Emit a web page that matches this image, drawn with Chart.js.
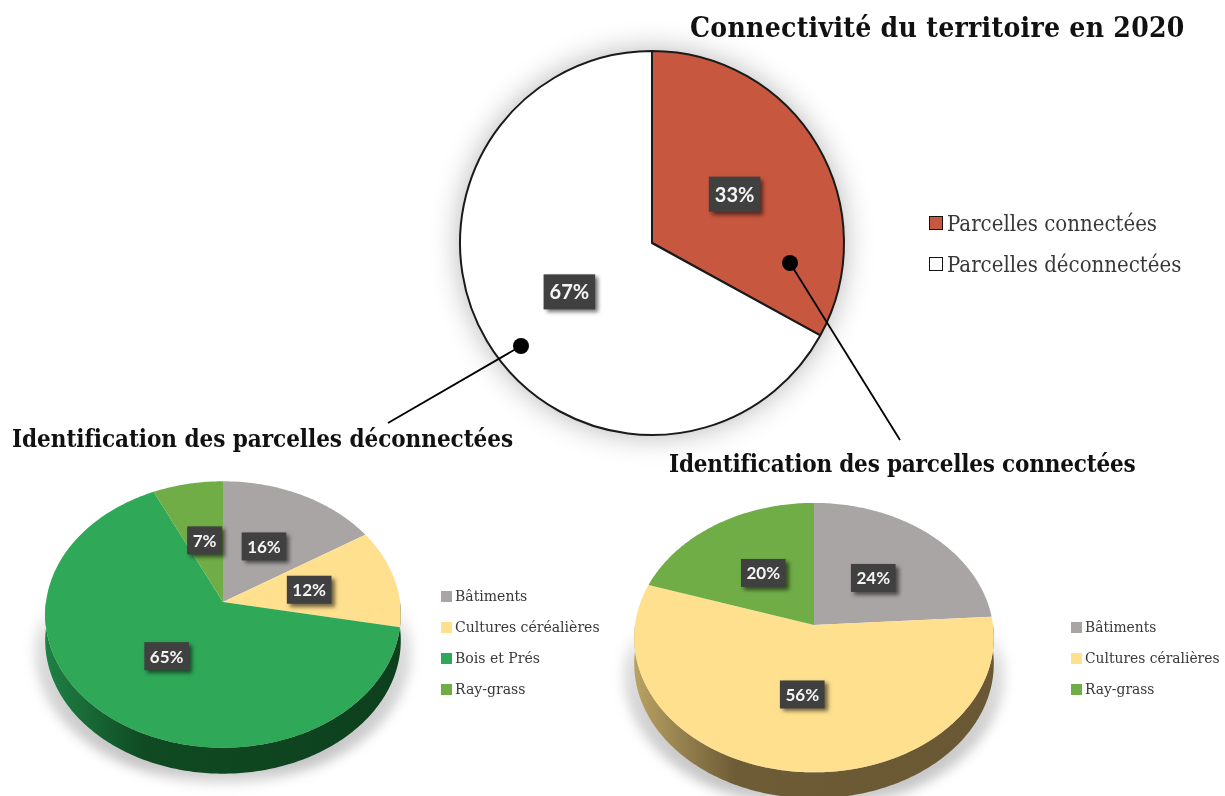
<!DOCTYPE html>
<html lang="fr">
<head>
<meta charset="utf-8">
<title>Connectivité du territoire en 2020</title>
<script src="https://cdn.jsdelivr.net/npm/chart.js@4/dist/chart.umd.min.js"></script>
<style>
  html, body { margin: 0; width: 1225px; height: 796px; overflow: hidden; background: #fff; }
  canvas, svg, .title, .legend { position: absolute; }
  svg { left: 0; top: 0; }
  .title { font-family: "DejaVu Serif Condensed", "DejaVu Serif", serif; font-weight: bold; color: #111; white-space: nowrap; line-height: 1; }
  .legend { font-family: "DejaVu Serif Condensed", "DejaVu Serif", serif; color: #383838; white-space: nowrap; }
  .legend div { position: absolute; left: 0; display: flex; align-items: center; }
  .legend i { display: block; box-sizing: border-box; }
</style>
</head>
<body>
<canvas id="topPie" width="454" height="454" style="left:425px;top:16px"></canvas>
<canvas id="leftPie" width="404" height="404" style="left:21px;top:400px"></canvas>
<canvas id="rightPie" width="408" height="408" style="left:610px;top:421px"></canvas>

<svg width="1225" height="796">
  <line x1="521" y1="346" x2="388" y2="423" stroke="#000" stroke-width="1.8"/>
  <circle cx="521" cy="346" r="8"/>
  <line x1="790" y1="263" x2="900" y2="440" stroke="#000" stroke-width="1.8"/>
  <circle cx="790" cy="263" r="8"/>
</svg>

<div class="title" style="left:690px;top:14px;font-size:28px;letter-spacing:0.3px">Connectivité du territoire en 2020</div>
<div class="title" style="left:12px;top:427px;font-size:24px;letter-spacing:-0.05px">Identification des parcelles déconnectées</div>
<div class="title" style="left:669px;top:452px;font-size:24px;letter-spacing:-0.2px">Identification des parcelles connectées</div>

<div class="legend" id="topLegend" style="left:929px;top:210px;font-size:22px"></div>
<div class="legend" id="leftLegend" style="left:441px;top:583px;font-size:15.6px"></div>
<div class="legend" id="rightLegend" style="left:1071px;top:614px;font-size:15.4px"></div>

<script>
// -------------------- DATA --------------------
const topCategories = ["Parcelles connectées", "Parcelles déconnectées"];
const topValues = [33, 67];
const topColors = ["#C8573F", "#FFFFFF"];

const leftCategories = ["Bâtiments", "Cultures céréalières", "Bois et Prés", "Ray-grass"];
const leftValues = [16, 12, 65, 7];
const leftColors = ["#A9A5A5", "#FFE08F", "#2FA858", "#70AD47"];

const rightCategories = ["Bâtiments", "Cultures céralières", "Ray-grass"];
const rightValues = [24, 56, 20];
const rightColors = ["#A9A5A5", "#FFE08F", "#70AD47"];

// -------------------- 3D LOOK --------------------
const SQUASH = 0.746;   // flattening of the disc
const PERSPECTIVE = 0.0937;   // front of the disc is closer than the back
const DEPTH = 26;

function project(el, angle, frac) {
  const u = Math.cos(angle) * frac;
  const v = Math.sin(angle) * frac;
  const w = 1 - PERSPECTIVE * v;
  return {
    x: el.x + el.outerRadius * u / w,
    y: el.y + el.outerRadius * SQUASH * v / w
  };
}

function tracePath(ctx, el, from, to, dy, dx) {
  const steps = Math.max(2, Math.ceil(Math.abs(to - from) / 0.015));
  for (let i = 0; i <= steps; i++) {
    const p = project(el, from + (to - from) * i / steps, 1);
    ctx.lineTo(p.x * (dx || 1) + el.x * (1 - (dx || 1)), p.y + dy);
  }
}

function drawShadow(ctx, el) {
  const grad = ctx.createLinearGradient(0, el.y, 0, el.y + 190);
  grad.addColorStop(0, "rgba(90,90,90,0)");
  grad.addColorStop(0.2, "rgba(90,90,90,0.2)");
  grad.addColorStop(0.85, "rgba(90,90,90,0.36)");
  grad.addColorStop(1, "rgba(90,90,90,0.12)");
  ctx.save();
  ctx.filter = "blur(6px)";
  ctx.fillStyle = grad;
  ctx.beginPath();
  tracePath(ctx, el, 0, Math.PI * 2, DEPTH + 10, 1.06);
  ctx.closePath();
  ctx.fill();
  ctx.restore();
}

function drawWall(ctx, el, stops) {
  const grad = ctx.createLinearGradient(el.x - el.outerRadius, 0, el.x + el.outerRadius, 0);
  stops.forEach((c, i) => grad.addColorStop([0, 0.28, 1][i], c));
  ctx.fillStyle = grad;
  ctx.beginPath();
  tracePath(ctx, el, 0, Math.PI, 0);
  tracePath(ctx, el, Math.PI, 0, DEPTH);
  ctx.closePath();
  ctx.fill();
}

function drawLabel(ctx, text, x, y, fontSize, boxH, padX) {
  ctx.save();
  ctx.font = "bold " + fontSize + "px Lato, 'Open Sans', sans-serif";
  const boxW = ctx.measureText(text).width + padX * 2;
  ctx.shadowColor = "rgba(0,0,0,0.55)";
  ctx.shadowBlur = 4;
  ctx.shadowOffsetX = 3;
  ctx.shadowOffsetY = 3;
  ctx.fillStyle = "#404040";
  ctx.fillRect(x - boxW / 2, y - boxH / 2, boxW, boxH);
  ctx.shadowColor = "transparent";
  ctx.fillStyle = "#F5F5F5";
  ctx.textAlign = "center";
  ctx.textBaseline = "middle";
  ctx.fillText(text, x, y + 1);
  ctx.restore();
}

// replaces the flat slices with the tilted disc, geometry comes from the pie controller
const tiltedPie = {
  id: "tiltedPie",
  beforeDatasetsDraw(chart, args, opts) {
    const ctx = chart.ctx;
    const arcs = chart.getDatasetMeta(0).data;
    drawShadow(ctx, arcs[0]);
    drawWall(ctx, arcs[0], opts.wall);
    arcs.forEach((el) => {
      ctx.fillStyle = el.options.backgroundColor;
      ctx.beginPath();
      const c = project(el, 0, 0);
      ctx.moveTo(c.x, c.y);
      tracePath(ctx, el, el.startAngle, el.endAngle, 0);
      ctx.closePath();
      ctx.fill();
    });
    arcs.forEach((el, i) => {
      const p = project(el, (el.startAngle + el.endAngle) / 2, 0.5);
      drawLabel(ctx, chart.data.datasets[0].data[i] + "%", p.x, p.y, 17, 28, 5.5);
    });
    return false;
  }
};

// soft halo under the flat pie and its labels
const flatPie = {
  id: "flatPie",
  beforeDatasetsDraw(chart) {
    const ctx = chart.ctx;
    const el = chart.getDatasetMeta(0).data[0];
    ctx.save();
    ctx.shadowColor = "rgba(0,0,0,0.3)";
    ctx.shadowBlur = 30;
    ctx.fillStyle = "#fff";
    ctx.beginPath();
    ctx.arc(el.x, el.y, el.outerRadius, 0, Math.PI * 2);
    ctx.fill();
    ctx.restore();
  },
  afterDatasetsDraw(chart) {
    const ctx = chart.ctx;
    chart.getDatasetMeta(0).data.forEach((el, i) => {
      const mid = (el.startAngle + el.endAngle) / 2;
      drawLabel(ctx, chart.data.datasets[0].data[i] + "%",
        el.x + Math.cos(mid) * el.outerRadius / 2,
        el.y + Math.sin(mid) * el.outerRadius / 2, 20, 35, 6);
    });
  }
};

// -------------------- CHARTS --------------------
function makePie(id, labels, values, colors, padding, plugin, extra) {
  return new Chart(document.getElementById(id), {
    type: "pie",
    data: { labels: labels, datasets: [Object.assign({ data: values, backgroundColor: colors, borderWidth: 0 }, extra.dataset)] },
    plugins: [plugin],
    options: {
      responsive: false,
      animation: false,
      layout: { padding: padding },
      plugins: Object.assign({ legend: { display: false }, tooltip: { enabled: false } }, extra.plugins)
    }
  });
}

makePie("topPie", topCategories, topValues, topColors, 34, flatPie, {
  dataset: { borderColor: "#1a1a1a", borderWidth: 2 }
});
makePie("leftPie", leftCategories, leftValues, leftColors, 25, tiltedPie, {
  plugins: { tiltedPie: { wall: ["#1F8044", "#0F4A22", "#0D401D"] } }
});
makePie("rightPie", rightCategories, rightValues, rightColors, 25, tiltedPie, {
  plugins: { tiltedPie: { wall: ["#B8A163", "#6E5C36", "#695833"] } }
});

// -------------------- LEGENDS --------------------
function makeLegend(id, labels, colors, rowH, box, gap, outline) {
  const host = document.getElementById(id);
  labels.forEach((label, i) => {
    const row = document.createElement("div");
    row.style.top = (i * rowH) + "px";
    row.style.height = "26px";
    const swatch = document.createElement("i");
    swatch.style.width = box + "px";
    swatch.style.height = box + "px";
    swatch.style.marginRight = gap + "px";
    swatch.style.background = colors[i];
    if (outline) swatch.style.border = "1.5px solid #111";
    row.appendChild(swatch);
    row.appendChild(document.createTextNode(label));
    host.appendChild(row);
  });
}

makeLegend("topLegend", topCategories, topColors, 41, 14, 4, true);
makeLegend("leftLegend", leftCategories, leftColors, 31, 11, 3, false);
makeLegend("rightLegend", rightCategories, rightColors, 31, 11, 3, false);
</script>
</body>
</html>
